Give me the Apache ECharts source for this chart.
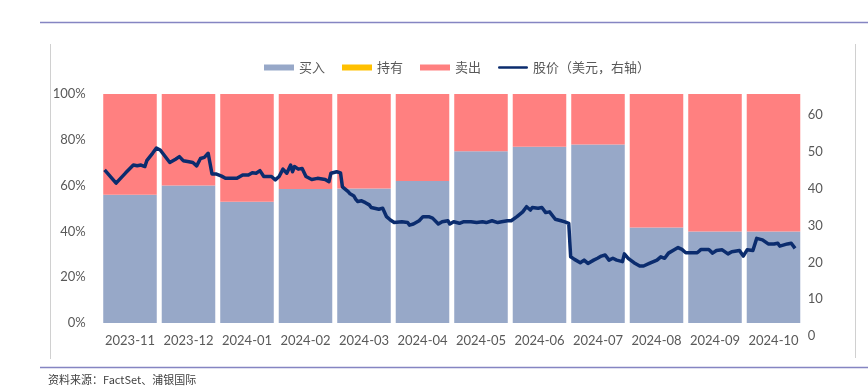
<!DOCTYPE html>
<html>
<head>
<meta charset="utf-8">
<script src="https://cdn.jsdelivr.net/npm/echarts@6/dist/echarts.min.js"></script>
<style>
  html, body { margin: 0; padding: 0; background: #fff; }
  #chart { width: 868px; height: 391px; }
</style>
</head>
<body>
<div id="chart"></div>
<script>
// 月份类别
const months = ['2023-11', '2023-12', '2024-01', '2024-02', '2024-03', '2024-04',
  '2024-05', '2024-06', '2024-07', '2024-08', '2024-09', '2024-10'];
// 评级分布 (%)
const buyPct = [56, 60, 53, 58.5, 58.7, 62, 75, 77, 78, 41.7, 40, 40];
const holdPct = [0, 0, 0, 0, 0, 0, 0, 0, 0, 0, 0, 0];
const sellPct = buyPct.map(v => 100 - v);
const pctTicks = [0, 20, 40, 60, 80, 100];

// 股价（美元）
const priceDates = [
  '2023-11-03', '2023-11-09', '2023-11-14', '2023-11-15', '2023-11-18', '2023-11-20', '2023-11-22', '2023-11-23',
  '2023-11-24', '2023-11-25', '2023-11-28', '2023-11-30', '2023-12-02', '2023-12-07', '2023-12-10', '2023-12-12',
  '2023-12-14', '2023-12-17', '2023-12-19', '2023-12-21', '2023-12-23', '2023-12-25', '2023-12-27', '2023-12-28',
  '2023-12-29', '2023-12-31', '2024-01-03', '2024-01-05', '2024-01-11', '2024-01-14', '2024-01-15', '2024-01-17',
  '2024-01-19', '2024-01-21', '2024-01-23', '2024-01-25', '2024-01-29', '2024-01-31', '2024-02-02', '2024-02-04',
  '2024-02-06', '2024-02-08', '2024-02-09', '2024-02-10', '2024-02-12', '2024-02-14', '2024-02-16', '2024-02-19',
  '2024-02-22', '2024-02-23', '2024-02-26', '2024-02-28', '2024-02-29', '2024-03-03', '2024-03-05', '2024-03-06',
  '2024-03-09', '2024-03-10', '2024-03-12', '2024-03-13', '2024-03-14', '2024-03-16', '2024-03-18', '2024-03-20',
  '2024-03-21', '2024-03-22', '2024-03-25', '2024-03-27', '2024-03-28', '2024-03-29', '2024-03-31', '2024-04-02',
  '2024-04-03', '2024-04-06', '2024-04-09', '2024-04-10', '2024-04-12', '2024-04-15', '2024-04-17', '2024-04-20',
  '2024-04-22', '2024-04-23', '2024-04-25', '2024-04-27', '2024-04-30', '2024-05-01', '2024-05-03', '2024-05-06',
  '2024-05-08', '2024-05-12', '2024-05-15', '2024-05-18', '2024-05-20', '2024-05-23', '2024-05-26', '2024-05-28',
  '2024-05-31', '2024-06-02', '2024-06-05', '2024-06-08', '2024-06-10', '2024-06-12', '2024-06-13', '2024-06-16',
  '2024-06-18', '2024-06-20', '2024-06-22', '2024-06-23', '2024-06-25', '2024-06-28', '2024-06-30', '2024-07-02',
  '2024-07-03', '2024-07-05', '2024-07-08', '2024-07-10', '2024-07-12', '2024-07-13', '2024-07-15', '2024-07-17',
  '2024-07-19', '2024-07-21', '2024-07-23', '2024-07-25', '2024-07-27', '2024-07-30', '2024-07-31', '2024-08-02',
  '2024-08-05', '2024-08-08', '2024-08-10', '2024-08-13', '2024-08-14', '2024-08-17', '2024-08-19', '2024-08-21',
  '2024-08-23', '2024-08-26', '2024-08-28', '2024-08-30', '2024-09-01', '2024-09-04', '2024-09-05', '2024-09-07',
  '2024-09-09', '2024-09-10', '2024-09-13', '2024-09-15', '2024-09-17', '2024-09-20', '2024-09-23', '2024-09-25',
  '2024-09-29', '2024-10-01', '2024-10-03', '2024-10-06', '2024-10-08', '2024-10-11', '2024-10-14', '2024-10-15',
  '2024-10-17', '2024-10-19', '2024-10-20', '2024-10-24', '2024-10-26', '2024-10-28'
];
const prices = [
  45.1, 41.5, 44.3, 44.6, 46.4, 46.2, 46.4, 46.9,
  46.0, 47.6, 49.6, 51.0, 50.5, 47.1, 48.0, 48.7,
  47.6, 47.3, 47.1, 46.2, 48.2, 48.5, 49.6, 49.8,
  44.0, 44.0, 43.4, 42.8, 42.8, 43.7, 44.2, 43.7,
  44.3, 44.2, 44.9, 43.3, 43.3, 42.4, 43.3, 45.3,
  44.2, 46.4, 44.6, 46.0, 45.3, 45.5, 43.3, 42.5,
  42.8, 42.4, 42.5, 41.9, 44.2, 44.6, 44.3, 40.5,
  39.2, 38.6, 38.0, 37.1, 36.5, 36.7, 36.2, 35.6,
  34.9, 34.4, 34.4, 34.7, 34.9, 32.4, 31.5, 30.8,
  30.6, 31.0, 30.8, 30.1, 30.4, 31.3, 32.4, 32.4,
  32.0, 32.4, 30.4, 31.0, 31.3, 30.4, 31.0, 30.6,
  31.0, 31.0, 30.8, 31.0, 30.8, 31.3, 30.8, 31.0,
  31.3, 31.3, 32.4, 33.7, 35.1, 34.2, 34.9, 34.7,
  34.9, 33.5, 33.7, 33.3, 31.7, 31.3, 31.0, 30.6,
  21.5, 20.8, 19.9, 20.6, 19.7, 19.9, 20.6, 21.1,
  21.7, 22.0, 20.6, 21.1, 20.6, 20.2, 22.3, 21.1,
  19.9, 19.0, 19.0, 19.7, 19.9, 20.6, 21.5, 21.1,
  22.5, 23.4, 24.0, 23.5, 22.6, 22.6, 22.9, 22.6,
  23.5, 23.8, 23.5, 22.5, 23.2, 23.4, 22.3, 22.9,
  23.2, 21.7, 23.4, 23.2, 26.5, 26.1, 25.0, 25.3,
  25.0, 25.2, 24.4, 25.0, 25.2, 23.8
];
const priceTicks = [0, 10, 20, 30, 40, 50, 60];

const chart = echarts.init(document.getElementById('chart'));

const labelStyle = {
  color: '#595959',
  fontSize: 13,
  fontFamily: 'Lato, "Noto Sans", sans-serif'
};
const lineColor = '#0B2C6E';

const option = {
  animation: false,
  backgroundColor: '#fff',
  legend: {
    left: 259,
    top: 56,
    itemWidth: 30,
    itemHeight: 6,
    itemGap: 17,
    textStyle: { color: '#595959', fontSize: 13, fontFamily: '"Noto Sans CJK SC", sans-serif' },
    data: [
      { name: '买入', icon: 'rect' },
      { name: '持有', icon: 'rect' },
      { name: '卖出', icon: 'rect' },
      // 细线图例：用不可见的 M 点撑开包围盒
      { name: '股价（美元，右轴）', icon: 'path://M0,0M33,6M1,1.6L32,1.6A1.4,1.4,0,0,1,32,4.4L1,4.4A1.4,1.4,0,0,1,1,1.6Z',
        itemStyle: { color: lineColor } }
    ]
  },
  grid: [
    { left: 100.75, right: 65.25, top: 94, bottom: 68 },
    { left: 100.75, right: 65.25, top: 94, bottom: 55 }
  ],
  xAxis: [
    {
      type: 'category',
      gridIndex: 0,
      data: months,
      axisLine: { show: false },
      axisTick: { show: false },
      axisLabel: Object.assign({ margin: 11, interval: 0 }, labelStyle)
    },
    {
      type: 'time',
      gridIndex: 1,
      min: '2023-11-01',
      max: '2024-11-01',
      show: false
    }
  ],
  yAxis: [
    {
      type: 'value',
      gridIndex: 0,
      min: pctTicks[0],
      max: pctTicks[pctTicks.length - 1],
      interval: 20,
      splitLine: { show: false },
      axisLine: { show: false },
      axisTick: { show: false },
      axisLabel: Object.assign({ margin: 15, formatter: '{value}%' }, labelStyle)
    },
    {
      type: 'value',
      gridIndex: 1,
      position: 'right',
      min: priceTicks[0],
      max: 65.7,
      interval: 10,
      splitLine: { show: false },
      axisLine: { show: false },
      axisTick: { show: false },
      axisLabel: Object.assign({ margin: 5, showMaxLabel: false }, labelStyle)
    }
  ],
  series: [
    {
      name: '买入', type: 'bar', stack: 'r', xAxisIndex: 0, yAxisIndex: 0,
      barCategoryGap: '8.5%', itemStyle: { color: '#97A8C8' }, data: buyPct
    },
    {
      name: '持有', type: 'bar', stack: 'r', xAxisIndex: 0, yAxisIndex: 0,
      barCategoryGap: '8.5%', itemStyle: { color: '#FFC000' }, data: holdPct
    },
    {
      name: '卖出', type: 'bar', stack: 'r', xAxisIndex: 0, yAxisIndex: 0,
      barCategoryGap: '8.5%', itemStyle: { color: '#FF8080' }, data: sellPct
    },
    {
      name: '股价（美元，右轴）', type: 'line', xAxisIndex: 1, yAxisIndex: 1,
      symbol: 'none', showSymbol: false,
      lineStyle: { color: lineColor, width: 3.5, join: 'round' },
      itemStyle: { color: lineColor },
      data: priceDates.map((d, i) => [d, prices[i]])
    }
  ],
  graphic: [
    { type: 'line', shape: { x1: 40, y1: 22.5, x2: 868, y2: 22.5 }, style: { stroke: '#8585C2', lineWidth: 1.5 } },
    { type: 'line', shape: { x1: 50.5, y1: 44, x2: 50.5, y2: 359 }, style: { stroke: '#D0D0D0', lineWidth: 1 } },
    { type: 'line', shape: { x1: 855.5, y1: 44, x2: 855.5, y2: 358 }, style: { stroke: '#D0D0D0', lineWidth: 1 } },
    { type: 'line', shape: { x1: 40, y1: 367.5, x2: 868, y2: 367.5 }, style: { stroke: '#8585C2', lineWidth: 1.5 } },
    {
      type: 'text', left: 48, top: 374,
      style: { text: '资料来源：FactSet、浦银国际', fill: '#404040', fontSize: 11, fontFamily: '"Noto Sans CJK SC", sans-serif' }
    }
  ]
};

chart.setOption(option);
</script>
</body>
</html>
